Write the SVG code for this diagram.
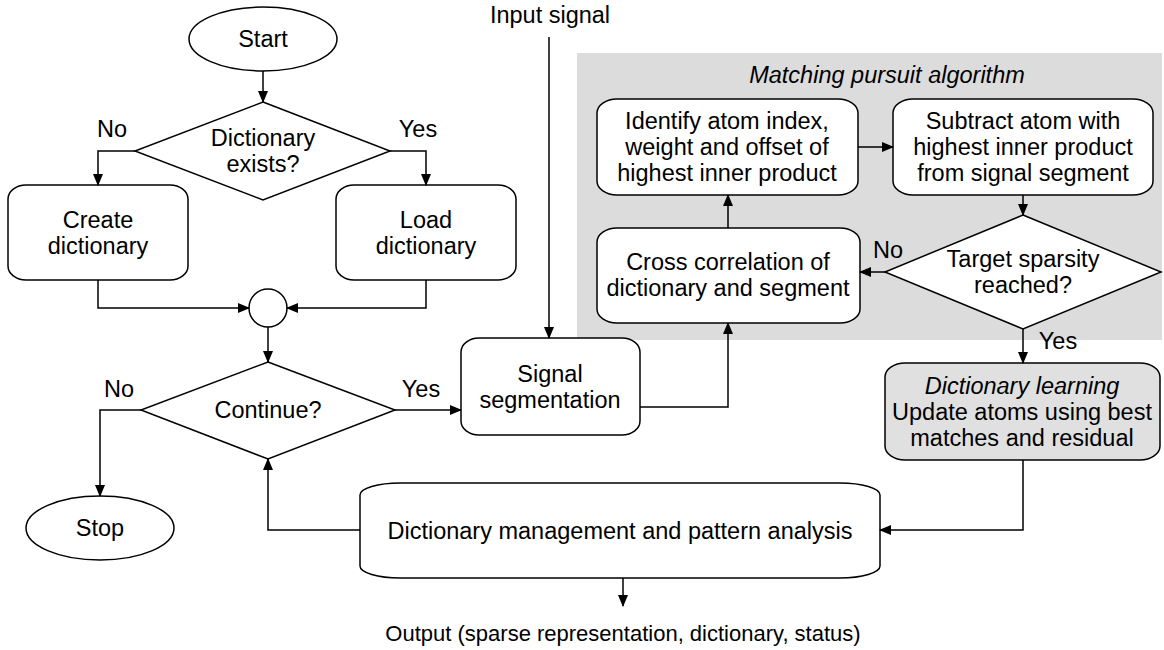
<svg xmlns="http://www.w3.org/2000/svg" width="1164" height="650" viewBox="0 0 1164 650">
<defs>
<marker id="ah" markerWidth="12" markerHeight="10" refX="11" refY="5" orient="auto" markerUnits="userSpaceOnUse">
<path d="M0,0 L12,5 L0,10 Z" fill="#000"/>
</marker>
<style>
.s{fill:#fff;stroke:#000;stroke-width:1.5}
.g{fill:#e0e0e0;stroke:#000;stroke-width:1.5}
.c{fill:none;stroke:#000;stroke-width:1.5;marker-end:url(#ah)}
text{font-family:"Liberation Sans",Arial,sans-serif;font-size:23.5px;fill:#000;text-anchor:middle}
.i{font-style:italic}
.o{font-size:22px}
</style>
</defs>
<rect id="mp-region" x="577" y="53" width="585" height="287" fill="#dcdcdc"/>
<text class="i" x="887" y="83">Matching pursuit algorithm</text>
<g id="start"><ellipse class="s" cx="263" cy="39" rx="74" ry="32"/><text x="263" y="47">Start</text></g>
<g id="dict-exists"><polygon class="s" points="263,102 390,151 263,200 135,151"/><text x="263" y="146">Dictionary</text><text x="263" y="172">exists?</text></g>
<g id="create"><rect class="s" x="8" y="185" width="180" height="95" rx="18" ry="14"/><text x="98" y="228">Create</text><text x="98" y="254">dictionary</text></g>
<g id="load"><rect class="s" x="336" y="185" width="180" height="95" rx="18" ry="14"/><text x="426" y="228">Load</text><text x="426" y="254">dictionary</text></g>
<g id="merge"><circle class="s" cx="268" cy="308" r="19"/></g>
<g id="continue"><polygon class="s" points="268,362 395,410 268,459 141,410"/><text x="268" y="418">Continue?</text></g>
<g id="stop"><ellipse class="s" cx="100" cy="528" rx="74" ry="32"/><text x="100" y="536">Stop</text></g>
<g id="segmentation"><rect class="s" x="461" y="338" width="179" height="97" rx="18" ry="14"/><text x="550" y="382">Signal</text><text x="550" y="408">segmentation</text></g>
<g id="identify"><rect class="s" x="597" y="99" width="261" height="96" rx="20" ry="14"/><text x="727" y="129">Identify atom index,</text><text x="727" y="155">weight and offset of</text><text x="727" y="181">highest inner product</text></g>
<g id="subtract"><rect class="s" x="893" y="99" width="260" height="96" rx="20" ry="14"/><text x="1023" y="129">Subtract atom with</text><text x="1023" y="155">highest inner product</text><text x="1023" y="181">from signal segment</text></g>
<g id="cross"><rect class="s" x="597" y="228" width="263" height="95" rx="20" ry="14"/><text x="728" y="270">Cross correlation of</text><text x="728" y="296">dictionary and segment</text></g>
<g id="target"><polygon class="s" points="1023,215 1161,272 1023,329 885,272"/><text x="1023" y="267">Target sparsity</text><text x="1023" y="293">reached?</text></g>
<g id="learning"><rect class="g" x="885" y="363" width="275" height="97" rx="20" ry="14"/><text class="i" x="1022" y="394">Dictionary learning</text><text x="1022" y="420">Update atoms using best</text><text x="1022" y="446">matches and residual</text></g>
<g id="management"><rect class="s" x="360" y="483" width="520" height="95" rx="40" ry="12"/><text x="620" y="539">Dictionary management and pattern analysis</text></g>
<g id="labels">
<text x="112" y="137">No</text><text x="418" y="137">Yes</text>
<text x="119" y="397">No</text><text x="421" y="397">Yes</text>
<text x="888" y="258">No</text><text x="1058" y="349">Yes</text>
<text x="550" y="23">Input signal</text>
<text class="o" x="623" y="641">Output (sparse representation, dictionary, status)</text>
</g>
<g id="connectors">
<path class="c" d="M263,71 V102"/>
<path class="c" d="M135,151 H98 V185"/>
<path class="c" d="M390,151 H426 V185"/>
<path class="c" d="M98,280 V308 H249"/>
<path class="c" d="M426,280 V308 H287"/>
<path class="c" d="M268,327 V362"/>
<path class="c" d="M141,410 H100 V496"/>
<path class="c" d="M395,410 H461"/>
<path class="c" d="M549,37 V338"/>
<path class="c" d="M640,407 H728 V323"/>
<path class="c" d="M728,228 V195"/>
<path class="c" d="M858,147 H893"/>
<path class="c" d="M1023,195 V215"/>
<path class="c" d="M885,272 H860"/>
<path class="c" d="M1023,329 V363"/>
<path class="c" d="M1023,460 V530 H880"/>
<path class="c" d="M360,530 H268 V459"/>
<path class="c" d="M623,578 V606"/>
</g>
</svg>
